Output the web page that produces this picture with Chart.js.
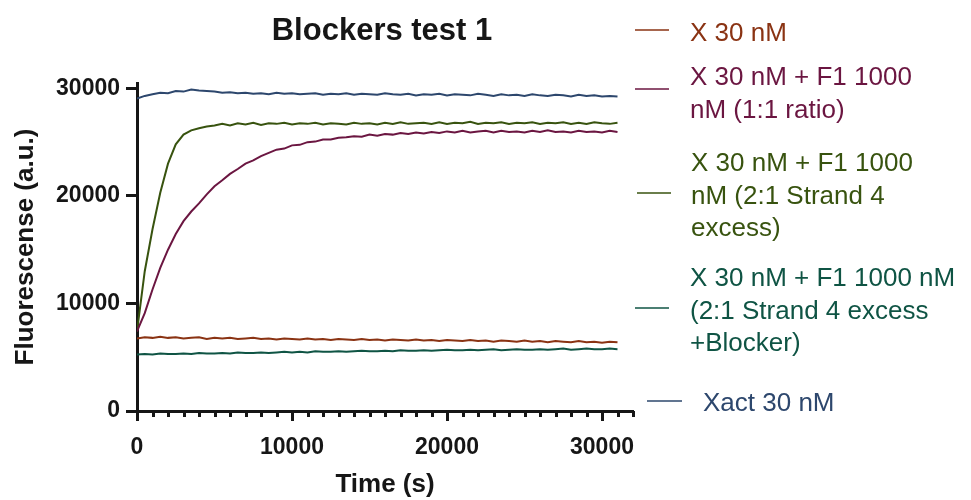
<!DOCTYPE html>
<html>
<head>
<meta charset="utf-8">
<title>Blockers test 1</title>
<script src="https://cdn.jsdelivr.net/npm/chart.js@4.4.1/dist/chart.umd.min.js"></script>
<style>
  html, body { margin: 0; padding: 0; background: #fff; }
  #wrap { position: relative; width: 971px; height: 500px; }
</style>
</head>
<body>
<div id="wrap"><canvas id="kinetics"></canvas></div>
<script>
/* -------------------------
   data
   ------------------------- */
const chartTitle = 'Blockers test 1';
const xTitle = 'Time (s)';
const yTitle = 'Fluorescense (a.u.)';

const xTicks = [0, 10000, 20000, 30000];
const yTicks = [0, 10000, 20000, 30000];

// time points (s)
const timeS = [
  0, 500, 1000, 1500, 2000, 2500, 3000, 3500, 4000, 4500,
  5000, 5500, 6000, 6500, 7000, 7500, 8000, 8500, 9000, 9500,
  10000, 10500, 11000, 11500, 12000, 12500, 13000, 13500, 14000, 14500,
  15000, 15500, 16000, 16500, 17000, 17500, 18000, 18500, 19000, 19500,
  20000, 20500, 21000, 21500, 22000, 22500, 23000, 23500, 24000, 24500,
  25000, 25500, 26000, 26500, 27000, 27500, 28000, 28500, 29000, 29500,
  30000, 30500, 31000
];

const x30 = [
  6750, 6850, 6800, 6900, 6800, 6850, 6750, 6800, 6850, 6700,
  6800, 6750, 6800, 6700, 6750, 6800, 6700, 6750, 6650, 6750,
  6700, 6650, 6750, 6650, 6700, 6600, 6700, 6650, 6600, 6700,
  6600, 6650, 6550, 6650, 6600, 6550, 6650, 6550, 6600, 6500,
  6600, 6550, 6500, 6600, 6500, 6550, 6450, 6550, 6500, 6450,
  6550, 6450, 6500, 6400, 6500, 6450, 6400, 6500, 6400, 6450,
  6350, 6450, 6400
];

const x30F1Ratio11 = [
  7400, 9100, 11300, 13300, 15000, 16450, 17650, 18550, 19300, 20150,
  20900, 21450, 22050, 22500, 23000, 23300, 23700, 24000, 24300, 24400,
  24700, 24750, 25000, 25050, 25250, 25250, 25400, 25450, 25550, 25500,
  25700, 25600, 25750, 25700, 25850, 25750, 25900, 25800, 25950, 25850,
  26000, 25900, 26050, 25900, 26000, 26050, 25900, 26050, 25950, 26000,
  25900, 26050, 25950, 26100, 25950, 26000, 25900, 26050, 25950, 26000,
  25900, 26050, 25950
];

const x30F1Strand4 = [
  7400, 13000, 16900, 20300, 23000, 24800, 25700, 26100, 26300, 26450,
  26550, 26700, 26550, 26750, 26650, 26800, 26600, 26750, 26700, 26800,
  26650, 26750, 26700, 26800, 26650, 26750, 26700, 26650, 26800, 26700,
  26750, 26650, 26800, 26700, 26850, 26700, 26750, 26800, 26700, 26850,
  26700, 26800, 26750, 26900, 26700, 26800, 26750, 26850, 26700, 26800,
  26750, 26850, 26700, 26800, 26750, 26850, 26700, 26800, 26700, 26850,
  26750, 26700, 26800
];

const x30F1Blocker = [
  5250, 5300, 5250, 5350, 5300, 5300, 5350, 5300, 5400, 5350,
  5350, 5400, 5350, 5450, 5400, 5400, 5450, 5400, 5450, 5500,
  5450, 5500, 5450, 5550, 5500, 5500, 5550, 5500, 5550, 5600,
  5550, 5550, 5600, 5550, 5650, 5600, 5600, 5650, 5600, 5650,
  5700, 5650, 5650, 5700, 5650, 5700, 5750, 5650, 5700, 5750,
  5700, 5700, 5750, 5700, 5750, 5800, 5700, 5750, 5800, 5750,
  5750, 5800, 5750
];

const xact30 = [
  29050, 29300, 29450, 29600, 29550, 29750, 29700, 29900, 29800, 29750,
  29700, 29600, 29650, 29550, 29600, 29500, 29550, 29450, 29600, 29500,
  29550, 29450, 29500, 29550, 29400, 29500, 29450, 29550, 29400, 29500,
  29450, 29400, 29550, 29450, 29400, 29500, 29350, 29450, 29400, 29500,
  29350, 29450, 29400, 29350, 29500, 29400, 29300, 29450, 29350, 29400,
  29300, 29450, 29350, 29300, 29400, 29350, 29250, 29400, 29300, 29350,
  29250, 29300, 29250
];

const seriesLabels = [
  ['X 30 nM'],
  ['X 30 nM + F1 1000', 'nM (1:1 ratio)'],
  ['X 30 nM + F1 1000', 'nM (2:1 Strand 4', 'excess)'],
  ['X 30 nM + F1 1000 nM', '(2:1 Strand 4 excess', '+Blocker)'],
  ['Xact 30 nM']
];
const seriesValues = [x30, x30F1Ratio11, x30F1Strand4, x30F1Blocker, xact30];

/* -------------------------
   styling
   ------------------------- */
const colors = ['#8a3313', '#6b1641', '#38530f', '#0f5444', '#2d476d'];
const AXIS = '#161616';
const FONT = '"Liberation Sans", Arial, sans-serif';

// where each legend entry sits (px): text x, first baseline, marker x1, x2, y
const legendPos = [
  { tx: 690, ty: 41,  mx1: 635, mx2: 669, my: 30 },
  { tx: 690, ty: 85,  mx1: 635, mx2: 669, my: 89 },
  { tx: 691, ty: 171, mx1: 637, mx2: 671, my: 193 },
  { tx: 690, ty: 286, mx1: 635, mx2: 669, my: 308 },
  { tx: 703, ty: 411, mx1: 647, mx2: 682, my: 401 }
];
const legendLine = 32.5;

const datasets = seriesValues.map((vals, i) => ({
  label: seriesLabels[i].join(' '),
  data: vals.map((v, j) => ({ x: timeS[j], y: v })),
  borderColor: colors[i],
  backgroundColor: colors[i],
  borderWidth: 2,
  pointRadius: 0,
  tension: 0,
  fill: false
}));

// title, minor x ticks and the hand-placed legend
const extras = {
  id: 'extras',
  afterDraw(chart) {
    const { ctx, chartArea, scales } = chart;
    ctx.save();

    // title
    ctx.fillStyle = AXIS;
    ctx.font = 'bold 31px ' + FONT;
    ctx.textAlign = 'center';
    ctx.textBaseline = 'alphabetic';
    ctx.fillText(chartTitle, (chartArea.left + chartArea.right) / 2 - 3, 40);

    // minor ticks on x every 1000 s
    const xs = scales.x;
    ctx.strokeStyle = AXIS;
    ctx.lineWidth = 3;
    for (let v = 1000; v <= xs.max; v += 1000) {
      if (v % 10000 === 0) continue;
      const px = Math.round(xs.getPixelForValue(v)) + 0.5;
      ctx.beginPath();
      ctx.moveTo(px, chartArea.bottom);
      ctx.lineTo(px, chartArea.bottom + 6);
      ctx.stroke();
    }

    // legend
    ctx.textAlign = 'left';
    ctx.font = '26px ' + FONT;
    seriesLabels.forEach((lines, i) => {
      const p = legendPos[i];
      ctx.strokeStyle = colors[i];
      ctx.lineWidth = 1.6;
      ctx.beginPath();
      ctx.moveTo(p.mx1, p.my);
      ctx.lineTo(p.mx2, p.my);
      ctx.stroke();
      ctx.fillStyle = colors[i];
      lines.forEach((t, k) => ctx.fillText(t, p.tx, p.ty + k * legendLine));
    });
    ctx.restore();
  }
};

new Chart(document.getElementById('kinetics'), {
  type: 'line',
  data: { datasets },
  plugins: [extras],
  options: {
    responsive: true,
    maintainAspectRatio: false,
    animation: false,
    layout: { padding: { top: 83, right: 338, left: 0, bottom: 0 } },
    plugins: {
      legend: { display: false },
      title: { display: false },
      tooltip: { enabled: false }
    },
    scales: {
      x: {
        type: 'linear',
        min: 0,
        max: 32000,
        afterBuildTicks: (s) => { s.ticks = xTicks.map(v => ({ value: v })); },
        afterFit: (s) => { s.height = 89; },
        grid: {
          drawOnChartArea: false,
          drawTicks: true,
          tickLength: 10,
          tickWidth: 3,
          tickColor: AXIS
        },
        border: { display: true, color: AXIS, width: 3 },
        ticks: {
          color: AXIS,
          padding: 13,
          maxRotation: 0,
          callback: (v) => String(v),
          font: { family: FONT, size: 23, weight: 'bold' }
        },
        title: {
          display: true,
          text: xTitle,
          color: AXIS,
          padding: { top: 0, bottom: 0 },
          font: { family: FONT, size: 26, weight: 'bold' }
        }
      },
      y: {
        type: 'linear',
        min: 0,
        max: 30500,
        afterBuildTicks: (s) => { s.ticks = yTicks.map(v => ({ value: v })); },
        afterFit: (s) => { s.width = 137; },
        grid: {
          drawOnChartArea: false,
          drawTicks: true,
          tickLength: 11,
          tickWidth: 3,
          tickColor: AXIS
        },
        border: { display: true, color: AXIS, width: 3 },
        ticks: {
          color: AXIS,
          padding: 6,
          callback: (v) => String(v),
          font: { family: FONT, size: 23, weight: 'bold' }
        },
        title: {
          display: true,
          text: yTitle,
          color: AXIS,
          padding: { top: 10, bottom: 0 },
          font: { family: FONT, size: 26, weight: 'bold' }
        }
      }
    }
  }
});
</script>
</body>
</html>
